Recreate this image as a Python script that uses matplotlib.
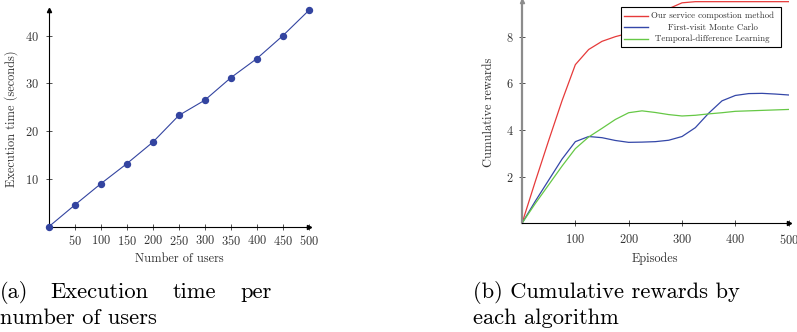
import numpy as np
import matplotlib
matplotlib.use("Agg")
import matplotlib.pyplot as plt
from matplotlib.lines import Line2D
from matplotlib.patches import Rectangle

plt.rcParams['font.family'] = ['cmr10', 'DejaVu Serif']
plt.rcParams['mathtext.fontset'] = 'cm'
plt.rcParams['axes.formatter.use_mathtext'] = True

# (a) execution time per number of users
users = [0, 50, 100, 150, 200, 250, 300, 350, 400, 450, 500]
exec_time = [0, 4.55, 9.0, 13.2, 17.7, 23.3, 26.5, 31.2, 35.2, 40.0, 45.3]

# (b) cumulative rewards, read every 25 episodes
episodes = [0, 25, 50, 75, 100, 125, 150, 175, 200, 225, 250, 275, 300,
            325, 350, 375, 400, 425, 450, 475, 500]
ours = [0, 1.8, 3.55, 5.25, 6.8, 7.45, 7.8, 8.0, 8.15, 8.35, 8.65, 9.2, 9.45,
        9.5, 9.5, 9.5, 9.5, 9.5, 9.5, 9.5, 9.5]
monte_carlo = [0, 0.95, 1.85, 2.75, 3.5, 3.72, 3.67, 3.55, 3.47, 3.48, 3.5,
               3.56, 3.72, 4.1, 4.72, 5.25, 5.48, 5.56, 5.57, 5.54, 5.5]
td_learning = [0, 0.85, 1.65, 2.45, 3.2, 3.7, 4.07, 4.45, 4.74, 4.82, 4.75,
               4.66, 4.6, 4.63, 4.69, 4.74, 4.8, 4.82, 4.84, 4.86, 4.88]
legend_labels = ['Our service compostion method', 'First-visit Monte Carlo',
                 'Temporal-difference Learning']

W, H = 797, 332
def fx(px):
    return px / W
def fy(py):
    return 1 - py / H

fig = plt.figure(figsize=(W / 100, H / 100), dpi=100)

def style_axes(ax, left_color='black', left_lw=0.8):
    for s in ['top', 'right']:
        ax.spines[s].set_visible(False)
    ax.spines['bottom'].set_linewidth(0.8)
    ax.spines['left'].set_linewidth(left_lw)
    ax.spines['left'].set_color(left_color)
    ax.tick_params(direction='inout', length=4, width=0.6, colors='#333333')
    ax.plot(1, 0, '>', color='black', markersize=3, transform=ax.transAxes, clip_on=False)
    ax.plot(0, 1, '^', color=left_color, markersize=3, transform=ax.transAxes, clip_on=False)

fs = 8.9

# left panel
ax1 = fig.add_axes([fx(48.7), fy(226.8), fx(309) - fx(48.7), (226.8 - 10) / H])
ax1.plot(users, exec_time, '-o', color='#3344a0', linewidth=0.8,
         markersize=4.3, clip_on=False, zorder=3)
ax1.set_xlim(0, 500)
ax1.set_ylim(0, 45.35)
ax1.set_xticks(users[1:])
ax1.set_yticks([10, 20, 30, 40])
style_axes(ax1)
ax1.tick_params(axis='both', labelsize=fs, labelcolor='#333333')
ax1.tick_params(axis='x', pad=3)
ax1.tick_params(axis='y', pad=5)
ax1.set_xlabel('Number of users', fontsize=fs, color='#333333', labelpad=4)
ax1.set_ylabel('Execution time (seconds)', fontsize=fs, color='#333333', labelpad=5)

# right panel
ax2 = fig.add_axes([fx(522), fy(223.3), fx(788.7) - fx(522), 222.8 / H])
ax2.plot(episodes, ours, color='#e63a3a', linewidth=0.9, label=legend_labels[0])
ax2.plot(episodes, monte_carlo, color='#3447a8', linewidth=0.9, label=legend_labels[1])
ax2.plot(episodes, td_learning, color='#66c846', linewidth=0.9, label=legend_labels[2])
ax2.set_xlim(0, 500)
ax2.set_ylim(0, 9.55)
ax2.set_xticks([100, 200, 300, 400, 500])
ax2.set_yticks([2, 4, 6, 8])
style_axes(ax2, left_color='#8c8c8c', left_lw=1.6)
ax2.tick_params(axis='both', labelsize=fs, labelcolor='#333333')
ax2.tick_params(axis='x', pad=5)
ax2.tick_params(axis='y', pad=4)
ax2.set_xlabel('Episodes', fontsize=fs, color='#333333', labelpad=4)
ax2.set_ylabel('Cumulative rewards', fontsize=fs, color='#333333', labelpad=8)

# legend drawn as in the pgfplots figure (centred entries)
fig.patches.append(Rectangle((fx(620.7), fy(47.3)), fx(780.7) - fx(620.7),
                             (47.3 - 7.3) / H, transform=fig.transFigure,
                             facecolor='white', edgecolor='black', linewidth=0.8,
                             zorder=5))
colors = ['#e63a3a', '#3447a8', '#66c846']
rows_y = [15.7, 27.3, 39.0]
for lab, c, yy in zip(legend_labels, colors, rows_y):
    fig.lines.append(Line2D([fx(624.3), fx(648.3)], [fy(yy), fy(yy)],
                            transform=fig.transFigure, color=c, linewidth=1.0,
                            zorder=6))
    fig.text(fx(712.5), fy(yy), lab, ha='center', va='center', fontsize=6.4,
             color='#333333', zorder=6)

# captions
cap = 16.2
words_a = [('(a)', 0), ('Execution', 50), ('time', 173), ('per', 240)]
for w, x in words_a:
    fig.text(fx(x), fy(292), w, ha='left', va='center', fontsize=cap)
fig.text(fx(0), fy(318), 'number of users', ha='left', va='center', fontsize=cap)
fig.text(fx(473), fy(292), '(b) Cumulative rewards by', ha='left', va='center', fontsize=cap)
fig.text(fx(473), fy(318), 'each algorithm', ha='left', va='center', fontsize=cap)

fig.savefig('out.png', dpi=100)
